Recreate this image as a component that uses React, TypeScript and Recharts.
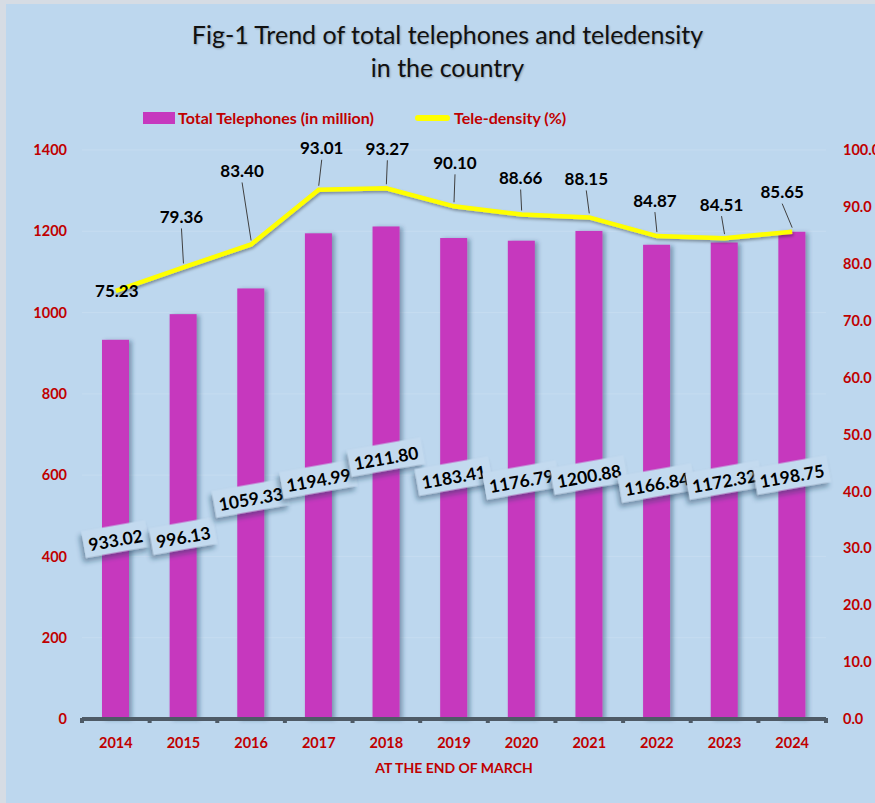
import React from "react";
import { ComposedChart, Bar, Line, XAxis, YAxis, CartesianGrid, LabelList } from "recharts";

const YEARS = ["2014", "2015", "2016", "2017", "2018", "2019", "2020", "2021", "2022", "2023", "2024"];
const TELEPHONES = [933.02, 996.13, 1059.33, 1194.99, 1211.8, 1183.41, 1176.79, 1200.88, 1166.84, 1172.32, 1198.75];
const TELEDENSITY = [75.23, 79.36, 83.4, 93.01, 93.27, 90.1, 88.66, 88.15, 84.87, 84.51, 85.65];
const LEFT_TICKS = [0, 200, 400, 600, 800, 1000, 1200, 1400];
const RIGHT_TICKS = [0, 10, 20, 30, 40, 50, 60, 70, 80, 90, 100];

const BAR_NAME = "Total Telephones (in million)";
const LINE_NAME = "Tele-density (%)";

// label placement (px) – hand tuned to match the figure
const BAR_LABEL_LIFT = [180, 183, 221, 240, 262, 243, 239, 244, 236, 239, 244];
const LINE_LABEL_SHIFT: [number, number][] = [
  [1, 0], [-2, -51], [-9, -74], [3, -42], [1, -40], [1, -44],
  [-1, -37], [-3, -39], [-2, -36], [-3, -34], [-10, -40],
];

const W = 875;
const H = 803;
const LEFT_W = 82;
const RIGHT_W = 49;
const BAND = (W - LEFT_W - RIGHT_W) / YEARS.length;

const RED = "#C00000";
const FONT = "Lato, 'Open Sans', sans-serif";

const data = YEARS.map((year, i) => ({
  year,
  telephones: TELEPHONES[i],
  teledensity: TELEDENSITY[i],
}));

const fmt2 = (v: number) => v.toFixed(2);

function BarShape(props: any) {
  const { x, y, width, height } = props;
  return <rect x={x} y={y} width={width} height={height} fill="#C638BE" filter="url(#barShadow)" />;
}

function BarValueLabel(props: any) {
  const { x, y, width, height, value, index } = props;
  const cx = x + width / 2;
  const cy = y + height - BAR_LABEL_LIFT[index];
  const text = fmt2(Number(value));
  const bw = text.length * 9.8 + 6;
  const bh = 27;
  return (
    <g transform={`rotate(-10 ${cx} ${cy})`}>
      <rect
        x={cx - bw / 2}
        y={cy - bh / 2}
        width={bw}
        height={bh}
        fill="#C3DAEF"
        filter="url(#boxShadow)"
      />
      <text
        x={cx}
        y={cy + 1}
        textAnchor="middle"
        dominantBaseline="central"
        fontFamily={FONT}
        fontWeight={700}
        fontSize={17.5}
        fill="#000"
      >
        {text}
      </text>
    </g>
  );
}

function LineValueLabel(props: any) {
  const { x, y, value, index } = props;
  const [dx, dy] = LINE_LABEL_SHIFT[index];
  const tx = x + dx;
  const ty = y + dy;
  return (
    <g>
      {dy < -20 && (
        <line x1={tx} y1={ty + 12} x2={x} y2={y - 4} stroke="#404040" strokeWidth={1} />
      )}
      <text
        x={tx}
        y={ty}
        textAnchor="middle"
        dominantBaseline="central"
        fontFamily={FONT}
        fontWeight={700}
        fontSize={17}
        fill="#000"
      >
        {fmt2(Number(value))}
      </text>
    </g>
  );
}

function YearTick(props: any) {
  const { x, y, payload, index } = props;
  const marks = [x - BAND / 2];
  if (index === YEARS.length - 1) marks.push(x + BAND / 2);
  return (
    <g>
      {marks.map((mx, k) => (
        <rect key={k} x={mx - 2} y={y - 7} width={4} height={5} fill="#4e5a66" />
      ))}
      <text
        x={x}
        y={y + 17}
        textAnchor="middle"
        dominantBaseline="central"
        fontFamily={FONT}
        fontWeight={700}
        fontSize={14.5}
        fill={RED}
      >
        {payload.value}
      </text>
    </g>
  );
}

const tickStyle = { fill: RED, fontSize: 14.5, fontWeight: 700, fontFamily: FONT };

export default function App() {
  return (
    <div
      style={{
        position: "absolute",
        left: 0,
        top: 0,
        width: W,
        height: H,
        background: "#D6DCE4",
        overflow: "hidden",
        fontFamily: FONT,
      }}
    >
      <svg width={0} height={0} style={{ position: "absolute" }}>
        <defs>
          <filter id="barShadow" x="-30%" y="-5%" width="170%" height="115%">
            <feDropShadow dx="3" dy="1" stdDeviation="2" floodColor="#1f3b57" floodOpacity="0.4" />
          </filter>
          <filter id="boxShadow" x="-30%" y="-40%" width="160%" height="200%">
            <feDropShadow dx="-3" dy="4" stdDeviation="2.5" floodColor="#1f3b57" floodOpacity="0.45" />
          </filter>
          <filter id="lineShadow" x="-10%" y="-30%" width="120%" height="160%">
            <feDropShadow dx="1" dy="2" stdDeviation="1.5" floodColor="#000" floodOpacity="0.35" />
          </filter>
        </defs>
      </svg>
      <div
        style={{
          position: "absolute",
          left: 6,
          top: 4,
          right: 0,
          bottom: 0,
          background: "#BDD7EE",
        }}
      />
      <div
        style={{
          position: "absolute",
          left: 10,
          top: 18,
          width: W,
          textAlign: "center",
          fontSize: 25,
          lineHeight: "33px",
          color: "#111",
          textShadow: "1px 1px 2px rgba(0,0,0,0.25)",
        }}
      >
        Fig-1 Trend of total telephones and teledensity
        <br />
        in the country
      </div>
      <div style={{ position: "absolute", left: 143, top: 112, width: 32, height: 12, background: "#C638BE" }} />
      <div
        style={{
          position: "absolute",
          left: 178,
          top: 108,
          fontSize: 16,
          fontWeight: 700,
          color: RED,
          lineHeight: "20px",
          whiteSpace: "nowrap",
        }}
      >
        {BAR_NAME}
      </div>
      <div
        style={{ position: "absolute", left: 415, top: 115, width: 35, height: 6, borderRadius: 3, background: "#FFFF00" }}
      />
      <div
        style={{
          position: "absolute",
          left: 454,
          top: 108,
          fontSize: 16,
          fontWeight: 700,
          color: RED,
          lineHeight: "20px",
          whiteSpace: "nowrap",
        }}
      >
        {LINE_NAME}
      </div>
      <div style={{ position: "absolute", left: 0, top: 0 }}>
        <ComposedChart
          width={W}
          height={H}
          data={data}
          margin={{ top: 150, right: 0, left: 0, bottom: 24 }}
        >
          <CartesianGrid yAxisId="left" vertical={false} stroke="#C6DCF0" />
          <XAxis
            dataKey="year"
            height={60}
            interval={0}
            tickLine={false}
            tickMargin={0}
            axisLine={{ stroke: "#4e5a66", strokeWidth: 4 }}
            tick={<YearTick />}
            label={{
              value: "AT THE END OF MARCH",
              position: "insideBottom",
              offset: 6,
              fill: RED,
              fontSize: 14,
              fontWeight: 700,
              fontFamily: FONT,
            }}
          />
          <YAxis
            yAxisId="left"
            width={LEFT_W}
            domain={[0, 1400]}
            ticks={LEFT_TICKS}
            axisLine={false}
            tickLine={false}
            tickMargin={9}
            tick={tickStyle}
          />
          <YAxis
            yAxisId="right"
            orientation="right"
            width={RIGHT_W}
            domain={[0, 100]}
            ticks={RIGHT_TICKS}
            axisLine={false}
            tickLine={false}
            tickMargin={11}
            tick={{ ...tickStyle, textAnchor: "start" }}
            tickFormatter={(v: number) => v.toFixed(1)}
          />
          <Bar
            yAxisId="left"
            dataKey="telephones"
            name={BAR_NAME}
            barSize={27}
            shape={<BarShape />}
            isAnimationActive={false}
          >
            <LabelList dataKey="telephones" content={<BarValueLabel />} />
          </Bar>
          <Line
            yAxisId="right"
            dataKey="teledensity"
            name={LINE_NAME}
            type="linear"
            stroke="#FFFF00"
            strokeWidth={4.5}
            dot={false}
            filter="url(#lineShadow)"
            isAnimationActive={false}
          >
            <LabelList dataKey="teledensity" content={<LineValueLabel />} />
          </Line>
        </ComposedChart>
      </div>
    </div>
  );
}
